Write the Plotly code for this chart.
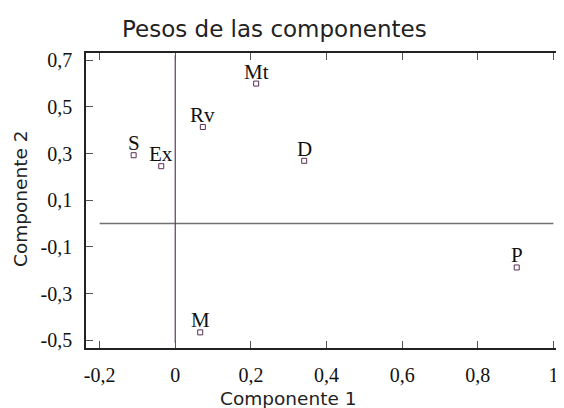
import plotly.graph_objects as go

# Data
labels = ["Mt", "Rv", "S", "Ex", "D", "P", "M"]
comp1 = [0.214, 0.073, -0.110, -0.037, 0.341, 0.903, 0.066]
comp2 = [0.600, 0.414, 0.293, 0.246, 0.269, -0.188, -0.466]

x_ticks = [-0.2, 0.0, 0.2, 0.4, 0.6, 0.8, 1.0]
x_ticktext = ["-0,2", "0", "0,2", "0,4", "0,6", "0,8", "1"]
y_ticks = [0.7, 0.5, 0.3, 0.1, -0.1, -0.3, -0.5]
y_ticktext = ["0,7", "0,5", "0,3", "0,1", "-0,1", "-0,3", "-0,5"]

# reference lines
hline_x = [-0.2, 1.0]
hline_y = [0.0, 0.0]
vline_x = [0.0, 0.0]
vline_y = [-0.51, 0.72]

# The page body has an 8px default margin; the figure is sized to compensate.
OFF = 8
W, H = 564 - OFF, 408 - OFF
L, R, T, B = 86 - OFF, 0, 53 - OFF, 60
PW, PH = W - L - R, H - T - B
serif = "Liberation Serif"
sans = "DejaVu Sans"


def px_to_paper(px, py):
    fx, fy = px - OFF, py - OFF
    return (fx - L) / PW, (H - B - fy) / PH


fig = go.Figure()
fig.add_trace(go.Scatter(x=hline_x, y=hline_y, mode="lines",
                         line=dict(color="#707070", width=1.5), hoverinfo="skip"))
fig.add_trace(go.Scatter(x=vline_x, y=vline_y, mode="lines",
                         line=dict(color="#5a3c5a", width=1.2), hoverinfo="skip"))
fig.add_trace(go.Scatter(
    x=comp1, y=comp2, mode="markers",
    marker=dict(symbol="square-open", size=5, color="#5a2e55", line=dict(width=1)),
))

annotations = []
for lab, xv, yv in zip(labels, comp1, comp2):
    annotations.append(dict(
        text=lab, x=xv, y=yv, xref="x", yref="y", showarrow=False,
        xanchor="center", yanchor="bottom", yshift=-2,
        font=dict(family=serif, size=21, color="#111111"),
    ))

tx, ty = px_to_paper(274, 29)
annotations.append(dict(
    text="Pesos de las componentes", x=tx, y=ty,
    xref="paper", yref="paper", showarrow=False, xanchor="center", yanchor="middle",
    font=dict(family=sans, size=23, color="#222222")))
tx, ty = px_to_paper(288, 398)
annotations.append(dict(
    text="Componente 1", x=tx, y=ty,
    xref="paper", yref="paper", showarrow=False, xanchor="center", yanchor="middle",
    font=dict(family=sans, size=18.5, color="#222222")))
tx, ty = px_to_paper(20, 199)
annotations.append(dict(
    text="Componente 2", x=tx, y=ty, textangle=-90,
    xref="paper", yref="paper", showarrow=False, xanchor="center", yanchor="middle",
    font=dict(family=sans, size=18.5, color="#222222")))

fig.update_layout(
    width=W, height=H,
    margin=dict(l=L, r=R, t=T, b=B, pad=0),
    paper_bgcolor="white", plot_bgcolor="white",
    showlegend=False,
    annotations=annotations,
)

fig.update_xaxes(
    range=[-0.236, 1.028], tickvals=x_ticks, ticktext=x_ticktext,
    ticks="inside", ticklen=7, tickcolor="#555555", tickwidth=1,
    showline=True, linecolor="#222222", linewidth=1.5, mirror="ticks",
    showgrid=False, zeroline=False, automargin=False,
    tickfont=dict(family=serif, size=20, color="#111111"),
    ticklabelstandoff=8,
)
fig.update_yaxes(
    range=[-0.533, 0.731], tickvals=y_ticks, ticktext=y_ticktext,
    ticks="inside", ticklen=7, tickcolor="#555555", tickwidth=1,
    showline=True, linecolor="#222222", linewidth=1.5, mirror="ticks",
    showgrid=False, zeroline=False, automargin=False,
    tickfont=dict(family=serif, size=20, color="#111111"),
    ticklabelstandoff=8,
)

fig.write_html("out.html")
